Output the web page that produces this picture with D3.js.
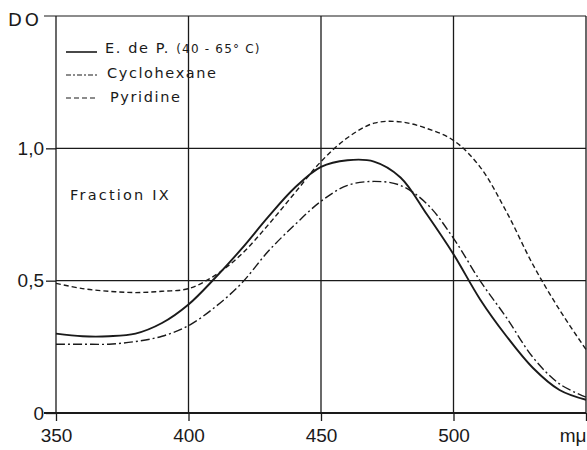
<!DOCTYPE html>
<html>
<head>
<meta charset="utf-8">
<style>
    body { margin: 0; background: #fff; }
    svg { display: block; font-family: "DejaVu Sans", sans-serif; }
    .axis .domain { display: none; }
</style>
</head>
<body>
<svg width="587" height="450"></svg>
<script src="https://d3js.org/d3.v7.min.js"></script>
<script>
    // wavelengths in m\u03bc, optical density
    var wavelengths = [350, 360, 370, 380, 390, 400, 410, 420, 430, 440, 450,
                       460, 470, 480, 490, 500, 510, 520, 530, 540, 550];
    var etherValues = [0.30, 0.29, 0.29, 0.30, 0.34, 0.41, 0.51, 0.62, 0.74, 0.85, 0.93,
                       0.955, 0.95, 0.89, 0.75, 0.60, 0.43, 0.29, 0.17, 0.087, 0.05];
    var cyclohexaneValues = [0.26, 0.26, 0.26, 0.27, 0.29, 0.33, 0.40, 0.49, 0.61, 0.71, 0.80,
                             0.86, 0.875, 0.86, 0.79, 0.66, 0.50, 0.36, 0.21, 0.11, 0.06];
    var pyridineValues = [0.49, 0.47, 0.46, 0.455, 0.46, 0.47, 0.52, 0.60, 0.71, 0.83, 0.95,
                          1.04, 1.095, 1.10, 1.075, 1.03, 0.93, 0.76, 0.56, 0.39, 0.24];
    var xTicks = [350, 400, 450, 500];
    var yTicks = [0, 0.5, 1.0];
    var yTickLabels = ["0", "0,5", "1,0"];

    var svg = d3.select("svg"),
        margin = {top: 16, right: 1, bottom: 37, left: 56},
        width = +svg.attr("width") - margin.left - margin.right,
        height = +svg.attr("height") - margin.top - margin.bottom,
        g = svg.append("g").attr("transform", "translate(" + margin.left + "," + margin.top + ")");

    var x = d3.scaleLinear().domain([350, 550]).range([0, width]);
    var y = d3.scaleLinear().domain([0, 1.5]).range([height, 0]);

    var ink = "#1a1a1a";

    // grid
    g.append("g").selectAll("line")
        .data([0.5, 1.0, 1.5])
        .enter().append("line")
        .attr("x1", function (d) { return d === 1.5 ? -12 : 0; })
        .attr("x2", width)
        .attr("y1", function (d) { return y(d); })
        .attr("y2", function (d) { return y(d); })
        .attr("stroke", ink).attr("stroke-width", 1.2);

    g.append("g").selectAll("line")
        .data([350, 400, 450, 500, 550])
        .enter().append("line")
        .attr("x1", function (d) { return x(d); })
        .attr("x2", function (d) { return x(d); })
        .attr("y1", y(0))
        .attr("y2", y(1.5))
        .attr("stroke", ink).attr("stroke-width", 1.3);

    g.append("line")
        .attr("x1", -12).attr("x2", width)
        .attr("y1", y(0)).attr("y2", y(0))
        .attr("stroke", ink).attr("stroke-width", 1.8);

    // axes
    var xAxis = g.append("g")
        .attr("class", "axis")
        .attr("transform", "translate(0," + height + ")")
        .call(d3.axisBottom(x).tickValues(xTicks.concat([550])).tickSize(8).tickPadding(8)
            .tickFormat(function (d) { return d === 550 ? "m\u03bc" : d; }));
    xAxis.selectAll("line").attr("stroke", ink).attr("stroke-width", 1.3);
    xAxis.selectAll("text")
        .attr("fill", ink)
        .attr("font-size", 19)
        .attr("text-anchor", function (d) { return d === 550 ? "end" : "middle"; });

    var yAxis = g.append("g")
        .attr("class", "axis")
        .call(d3.axisLeft(y).tickValues(yTicks).tickSize(10).tickPadding(2)
            .tickFormat(function (d, i) { return yTickLabels[i]; }));
    yAxis.selectAll("line").attr("stroke", ink).attr("stroke-width", 1.3);
    yAxis.selectAll("text").attr("fill", ink).attr("font-size", 19);

    svg.append("text")
        .attr("x", 8).attr("y", 26)
        .attr("font-size", 18)
        .attr("letter-spacing", 3)
        .attr("fill", ink)
        .text("DO");

    // curves
    var line = d3.line()
        .x(function (d) { return x(d[0]); })
        .y(function (d) { return y(d[1]); })
        .curve(d3.curveCatmullRom);

    var series = [
        {name: "ether", values: etherValues, dash: null, width: 1.9},
        {name: "cyclohexane", values: cyclohexaneValues, dash: "9,3,2,3", width: 1.4},
        {name: "pyridine", values: pyridineValues, dash: "5,3", width: 1.4}
    ];

    g.selectAll(".curve")
        .data(series)
        .enter().append("path")
        .attr("class", "curve")
        .attr("fill", "none")
        .attr("stroke", ink)
        .attr("stroke-width", function (d) { return d.width; })
        .attr("stroke-dasharray", function (d) { return d.dash; })
        .attr("d", function (d) {
            return line(wavelengths.map(function (w, i) { return [w, d.values[i]]; }));
        });

    // legend
    var legend = svg.append("g")
        .attr("font-size", 14.5)
        .attr("fill", ink)
        .attr("letter-spacing", 1.6);

    var legendRows = [
        {dash: null, w: 1.6, y: 52},
        {dash: "5,2,2,2", w: 1.2, y: 75},
        {dash: "5,3", w: 1.2, y: 98}
    ];
    legend.selectAll("line")
        .data(legendRows)
        .enter().append("line")
        .attr("x1", 66).attr("x2", 97)
        .attr("y1", function (d) { return d.y; })
        .attr("y2", function (d) { return d.y; })
        .attr("stroke", ink)
        .attr("stroke-width", function (d) { return d.w; })
        .attr("stroke-dasharray", function (d) { return d.dash; });

    var t1 = legend.append("text").attr("x", 105).attr("y", 53);
    t1.append("tspan").text("E. de P. ");
    t1.append("tspan").attr("font-size", 12).attr("letter-spacing", 1.2).text("(40 - 65\u00b0 C)");
    legend.append("text").attr("x", 107).attr("y", 78).text("Cyclohexane");
    legend.append("text").attr("x", 110).attr("y", 102).text("Pyridine");

    svg.append("text")
        .attr("x", 70).attr("y", 200)
        .attr("font-size", 14.5)
        .attr("letter-spacing", 2.2)
        .attr("fill", ink)
        .text("Fraction IX");
</script>
</body>
</html>
